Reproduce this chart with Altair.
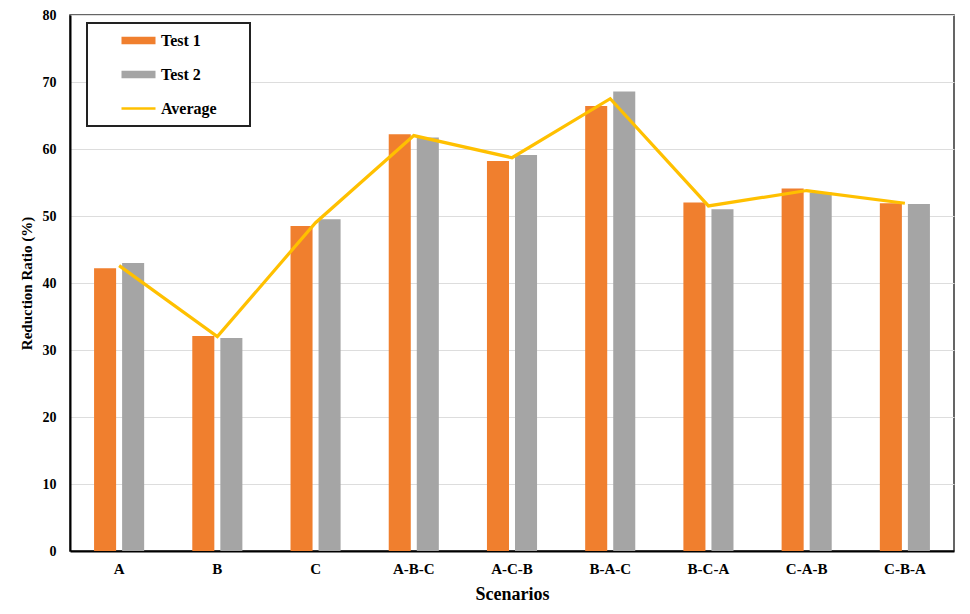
import altair as alt
import pandas as pd

scenarios = ["A", "B", "C", "A-B-C", "A-C-B", "B-A-C", "B-C-A", "C-A-B", "C-B-A"]
test1 = [42.2, 32.1, 48.5, 62.2, 58.2, 66.4, 52.0, 54.1, 51.9]
test2 = [43.0, 31.8, 49.5, 61.7, 59.1, 68.6, 51.0, 53.5, 51.8]
average = [42.6, 32.0, 49.0, 62.0, 58.7, 67.5, 51.5, 53.8, 51.9]

series_names = ["Test 1", "Test 2", "Average"]
series_colors = ["#F07F2E", "#A5A5A5", "#FFC000"]
legend_shapes = ["M-2,-0.45H2V0.45H-2Z", "M-2,-0.45H2V0.45H-2Z", "M-2,-0.16H2V0.16H-2Z"]

bars = pd.DataFrame({
    "scenario": scenarios * 2,
    "series": ["Test 1"] * len(scenarios) + ["Test 2"] * len(scenarios),
    "value": test1 + test2,
})
avg = pd.DataFrame({"scenario": scenarios, "series": "Average", "value": average})

FONT = "Liberation Serif"
cscale = alt.Scale(domain=series_names, range=series_colors)

xenc = alt.X("scenario:N", sort=scenarios,
             scale=alt.Scale(paddingInner=0.49, paddingOuter=0.245),
             axis=alt.Axis(title="Scenarios", labelAngle=0, ticks=False,
                           labelPadding=10, titlePadding=9,
                           labelFontSize=15, titleFontSize=18))
yenc = alt.Y("value:Q", scale=alt.Scale(domain=[0, 80], nice=False),
             axis=alt.Axis(title="Reduction Ratio (%)", values=list(range(0, 81, 10)),
                           ticks=False, labelPadding=14, titlePadding=8, grid=True,
                           labelFontSize=14, titleFontSize=15))

leg = alt.Legend(title=None, orient="none", legendX=17, legendY=8,
                 symbolSize=289, symbolOffset=34, labelOffset=14,
                 rowPadding=17, padding=9,
                 labelFont=FONT, labelFontSize=16, labelFontWeight="bold",
                 labelColor="black", symbolStrokeWidth=0,
                 labelExpr="datum.label + '\u2800\u2800'")

legend_layer = alt.Chart(avg).mark_point(filled=True, opacity=0, size=0).encode(
    x=xenc,
    y=yenc,
    color=alt.Color("series:N", scale=cscale, legend=leg),
    shape=alt.Shape("series:N", scale=alt.Scale(domain=series_names, range=legend_shapes), legend=leg),
)

bar_layer = alt.Chart(bars).mark_bar().encode(
    x=alt.X("scenario:N", sort=scenarios),
    xOffset=alt.XOffset("series:N", sort=["Test 1", "Test 2"],
                        scale=alt.Scale(paddingInner=0.214, paddingOuter=0)),
    y=alt.Y("value:Q"),
    color=alt.Color("series:N", scale=cscale, legend=None),
)

line_layer = alt.Chart(avg).mark_line(strokeWidth=3.2).encode(
    x=alt.X("scenario:N", sort=scenarios),
    y=alt.Y("value:Q"),
    color=alt.Color("series:N", scale=cscale, legend=None),
)

chart = alt.layer(legend_layer, bar_layer, line_layer).properties(
    width=884, height=536,
    padding={"left": 11, "top": 0, "right": 5, "bottom": 0},
).configure_view(
    stroke="#333333", strokeWidth=1.5
).configure_axis(
    labelFont=FONT, labelFontWeight="bold", labelColor="black",
    titleFont=FONT, titleFontWeight="bold", titleColor="black",
    domainColor="black", domainWidth=2, gridColor="#DDDDDD", gridWidth=1,
).configure_axisX(grid=False).configure_legend(
    strokeColor="#222222", strokeWidth=2, fillColor="white", symbolOpacity=1,
)

chart.save("out.html", embed_options={"renderer": "svg", "actions": False})
